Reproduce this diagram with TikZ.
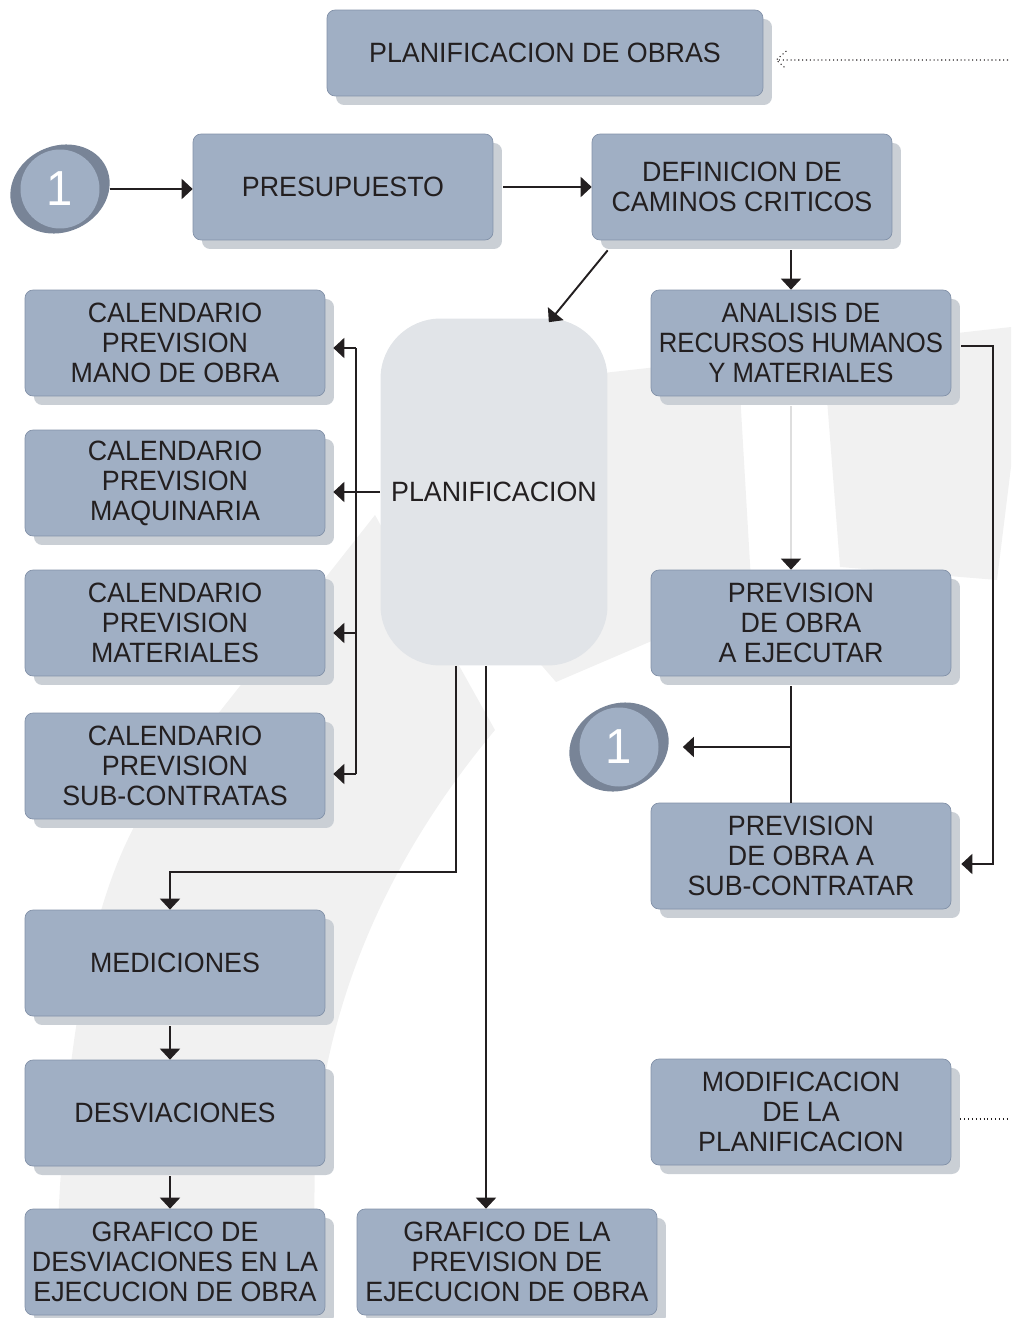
\documentclass[tikz,border=0pt]{standalone}
\usepackage{fontspec}
\setmainfont{Liberation Sans}[FakeStretch=0.96]
\newfontfamily\narrowfont{Liberation Sans}[FakeStretch=0.92]
\usetikzlibrary{arrows.meta,shadows}
\definecolor{boxblue}{RGB}{160,175,196}
\definecolor{boxedge}{RGB}{130,145,168}
\definecolor{boxshade}{RGB}{202,207,213}
\definecolor{planfill}{RGB}{225,228,232}
\definecolor{markgray}{RGB}{241,241,241}
\definecolor{rimgray}{RGB}{120,132,151}
\definecolor{ink}{RGB}{35,31,32}
\definecolor{faintline}{RGB}{222,222,222}
\tikzset{
  box/.style={draw=boxedge, line width=0.4pt, fill=boxblue, rounded corners=0.16cm,
    minimum width=6cm, minimum height=2.12cm, inner xsep=2pt, align=center, text=ink,
    general shadow={fill=boxshade, shadow xshift=0.18cm, shadow yshift=-0.18cm}},
  planbox/.style={fill=planfill, rounded corners=1.2cm, minimum width=4.54cm,
    minimum height=6.94cm, text=ink},
  badge/.style={circle, fill=boxblue, minimum size=1.58cm, inner sep=0pt, text=white,
    font=\fontsize{28}{28}\selectfont},
  arr/.style={draw=ink, line width=1.1pt, -{Triangle[length=0.22cm,width=0.4cm]}},
  link/.style={draw=ink, line width=1.1pt},
  dots/.style={draw=ink, line width=0.6pt, dash pattern=on 0.6pt off 1.6pt},
}
\begin{document}
\begin{tikzpicture}[x=0.02cm, y=-0.02cm, font=\fontsize{15.9}{17.1}\selectfont]
  \useasboundingbox (0,0) rectangle (1011,1318);
  % watermark
  \fill[markgray] (375,515) -- (495,730) .. controls (420,820) and (330,960) .. (315,1150)
    -- (313,1318) -- (55,1318) .. controls (60,1050) and (90,890) .. (150,800) -- cycle;
  \fill[markgray] (450,390) -- (738,358) -- (752,598) -- (556,682) -- (450,560) -- cycle;
  \fill[markgray] (823,348) -- (1011,327) -- (1011,467) -- (997,580) -- (840,567) -- cycle;

  \fill[rimgray, rotate around={25:(60,189)}] (60,189) ellipse [x radius=1.02cm, y radius=0.86cm];
  \fill[rimgray, rotate around={25:(619,747)}] (619,747) ellipse [x radius=1.02cm, y radius=0.86cm];

  \node[box, minimum width=8.72cm, minimum height=1.72cm] (title) at (545,53) {PLANIFICACION DE OBRAS};
  \node[badge] (c1) at (60,189) {1};
  \node[box] (presup) at (343,187) {PRESUPUESTO};
  \node[box] (def) at (742,187) {DEFINICION DE\\CAMINOS CRITICOS};
  \node[planbox] (planif) at (494,492) {PLANIFICACION};
  \node[box, font=\narrowfont\fontsize{15.9}{17.1}\selectfont] (anl) at (801,343) {ANALISIS DE\\RECURSOS HUMANOS\\Y MATERIALES};
  \node[box] (prev) at (801,623) {PREVISION\\DE OBRA\\A EJECUTAR};
  \node[badge] (c2) at (619,747) {1};
  \node[box] (sub) at (801,856) {PREVISION\\DE OBRA A\\SUB-CONTRATAR};
  \node[box] (modif) at (801,1112) {MODIFICACION\\DE LA\\PLANIFICACION};
  \node[box] (cal1) at (175,343) {CALENDARIO\\PREVISION\\MANO DE OBRA};
  \node[box] (cal2) at (175,483) {CALENDARIO\\PREVISION\\MAQUINARIA};
  \node[box] (cal3) at (175,623) {CALENDARIO\\PREVISION\\MATERIALES};
  \node[box] (cal4) at (175,766) {CALENDARIO\\PREVISION\\SUB-CONTRATAS};
  \node[box] (med) at (175,963) {MEDICIONES};
  \node[box] (desv) at (175,1113) {DESVIACIONES};
  \node[box] (graf1) at (175,1262) {GRAFICO DE\\DESVIACIONES EN LA\\EJECUCION DE OBRA};
  \node[box] (graf2) at (507,1262) {GRAFICO DE LA\\PREVISION DE\\EJECUCION DE OBRA};

  \coordinate (axR) at (791,0);
  \coordinate (tiptop) at ([xshift=0.26cm,yshift=-0.14cm]title.east);
  \coordinate (edgeR) at (1008,60);

  \draw[arr] ([xshift=0.2cm]c1.east) -- (c1.east -| presup.west);
  \draw[arr] ([xshift=0.2cm]presup.east) -- (def.west);
  \draw[arr] ([shift={(16,10)}]def.south west) -- ([shift={(-59,4)}]planif.north east);
  \draw[arr] ([yshift=-0.2cm]def.south -| axR) -- (anl.north -| axR);
  \draw[faintline, line width=0.8pt, -{Triangle[length=0.22cm,width=0.4cm,color=ink]}]
    ([yshift=-0.2cm]anl.south -| axR) -- (prev.north -| axR);
  \draw[arr] ([xshift=0.2cm,yshift=-0.06cm]anl.east) -- ++(32,0) |- ([xshift=0.2cm,yshift=-0.16cm]sub.east);
  \draw[link] ([yshift=-0.2cm]prev.south -| axR) -- (sub.north -| axR);
  \draw[arr] (c2 -| axR) -- ([xshift=0.48cm]c2.east);

  \draw[arr] (planif.west) -- ([xshift=0.16cm]planif.west -| cal2.east);
  \draw[link] ([xshift=0.62cm,yshift=-0.1cm]cal1.east) -- ([xshift=0.62cm,yshift=-0.16cm]cal4.east);
  \foreach \b/\s in {cal1/0.1,cal3/0.2,cal4/0.16}
    \draw[arr] ([xshift=0.62cm,yshift=-\s cm]\b.east) -- ([xshift=0.16cm,yshift=-\s cm]\b.east);

  \draw[arr] ([xshift=-0.76cm]planif.south) -- ++(0,206) -| ([xshift=-0.1cm]med.north);
  \draw[arr] ([xshift=-0.16cm]planif.south) -- ([xshift=-0.16cm]planif.south |- graf2.north);
  \draw[arr] ([xshift=-0.1cm,yshift=-0.2cm]med.south) -- ([xshift=-0.1cm]desv.north);
  \draw[arr] ([xshift=-0.1cm,yshift=-0.2cm]desv.south) -- ([xshift=-0.1cm]graf1.north);

  \draw[dots] (edgeR) -- (tiptop);
  \draw[dots] ([shift={(10,-9)}]tiptop) -- (tiptop) -- ([shift={(10,9)}]tiptop);
  \draw[dots] ([xshift=0.18cm,yshift=-0.14cm]modif.east) -- ++(48,0);
\end{tikzpicture}
\end{document}
